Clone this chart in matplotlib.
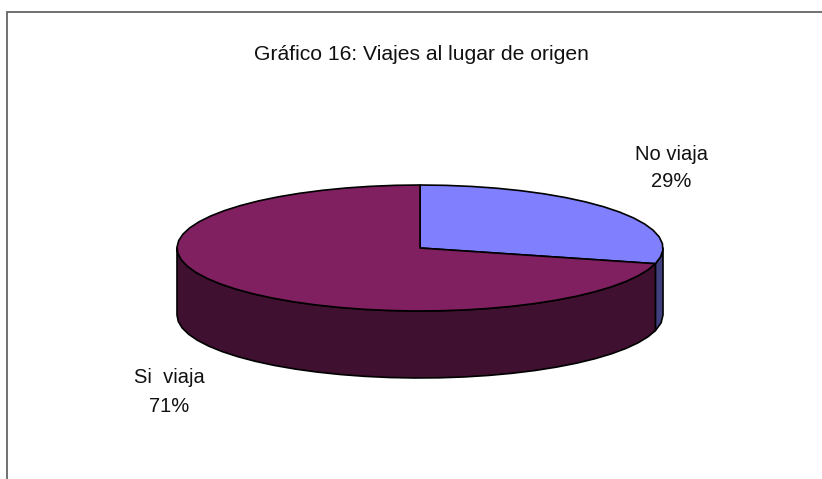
import numpy as np
import matplotlib
matplotlib.use("Agg")
import matplotlib.pyplot as plt
from matplotlib.patches import Polygon, Rectangle

plt.rcParams['font.family'] = ['Liberation Sans', 'DejaVu Sans']

labels = ['No viaja', 'Si  viaja']
values = [29, 71]
top_colors = ['#8080ff', '#802060']
side_colors = ['#40407f', '#401030']

title = 'Gráfico 16: Viajes al lugar de origen'

# pie geometry in pixels
cx, cy = 420, 248
rx, ry = 243, 63
depth = 67
facet = 6  # degrees, the original rim is a coarse polygon


def rim(a0, a1):
    n = max(int(round((a1 - a0) / facet)), 1) + 1
    t = np.radians(np.linspace(a0, a1, n))
    return cx + rx * np.cos(t), cy + ry * np.sin(t)


fig = plt.figure(figsize=(8.22, 4.79), dpi=100)
ax = fig.add_axes([0, 0, 1, 1])
ax.set_xlim(0, 822)
ax.set_ylim(479, 0)
ax.axis('off')

# right and bottom edges of the frame are cropped off
ax.add_patch(Rectangle((7, 12), 840, 490, fc='white', ec='#666666', lw=1.3, zorder=0))

# angles measured on screen, clockwise from the top (y axis points down)
start = -90
angles = []
for v in values:
    end = start + v / sum(values) * 360
    angles.append((start, end))
    start = end

# side walls, only the front half is visible
for (a0, a1), col in zip(angles, side_colors):
    a0, a1 = max(a0, 0), min(a1, 180)
    if a1 <= a0:
        continue
    x, y = rim(a0, a1)
    pts = np.r_[np.c_[x, y], np.c_[x[::-1], y[::-1] + depth]]
    ax.add_patch(Polygon(pts, fc=col, ec='black', lw=1.2, joinstyle='round', zorder=2))

# top of the pie
for (a0, a1), col in zip(angles, top_colors):
    x, y = rim(a0, a1)
    pts = np.r_[[[cx, cy]], np.c_[x, y]]
    ax.add_patch(Polygon(pts, fc=col, ec='black', lw=1.2, joinstyle='round', zorder=3))

ax.text(421, 54, title, ha='center', va='center', fontsize=15.2, color='#111111')
ax.text(671, 168, f'{labels[0]}\n{values[0]}%', ha='center', va='center',
        fontsize=14.5, linespacing=1.57, color='#111111')
ax.text(169, 392, f'{labels[1]}\n{values[1]}%', ha='center', va='center',
        fontsize=14.5, linespacing=1.67, color='#111111')

fig.savefig('out.png', dpi=100)
